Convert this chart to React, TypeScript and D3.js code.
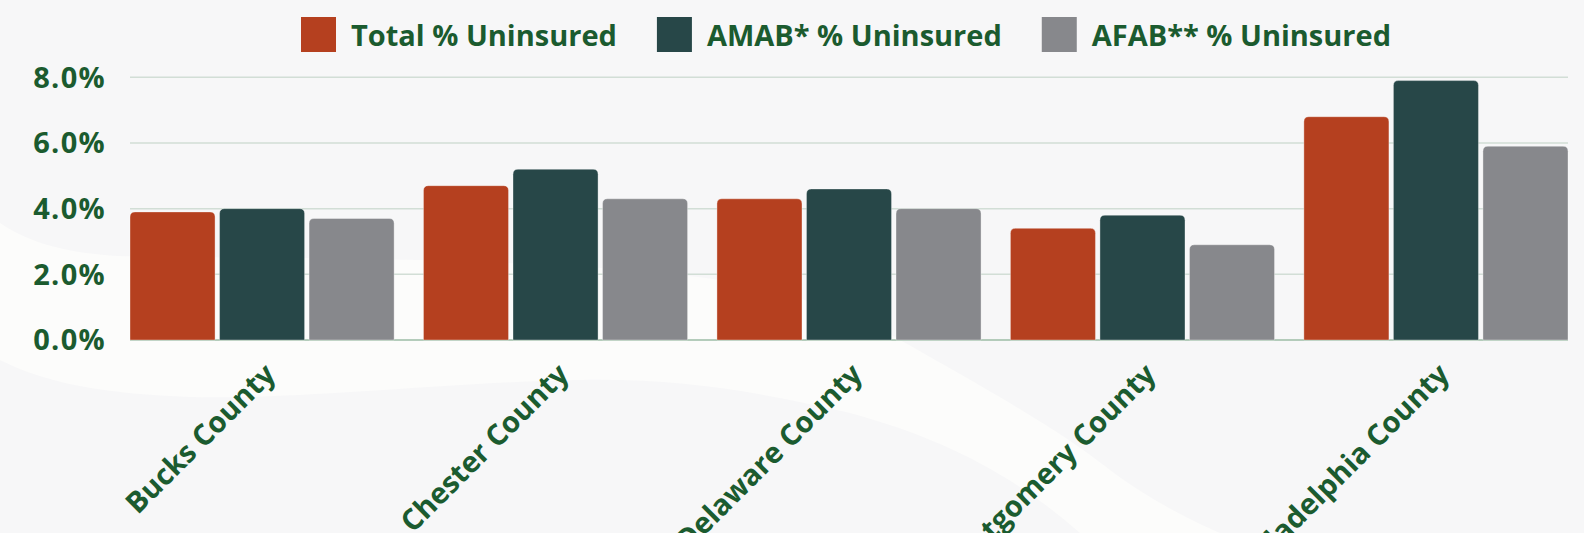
import React from "react";
import * as d3 from "d3";

const counties = ["Bucks County", "Chester County", "Delaware County", "Montgomery County", "Philadelphia County"];
const seriesNames = ["Total % Uninsured", "AMAB* % Uninsured", "AFAB** % Uninsured"];
const totalValues = [3.9, 4.7, 4.3, 3.4, 6.8];
const amabValues = [4.0, 5.2, 4.6, 3.8, 7.9];
const afabValues = [3.7, 4.3, 4.0, 2.9, 5.9];
const yTicks = [0, 2, 4, 6, 8];
const seriesColors = ["#B5401F", "#274748", "#87888C"];

const W = 1584;
const H = 533;
const FONT = "'Open Sans', sans-serif";
const GREEN = "#1B5B2F";

function measure(text: string, size: number) {
  const c = document.createElement("canvas").getContext("2d")!;
  c.font = `700 ${size}px 'Open Sans'`;
  return c.measureText(text).width;
}

function roundedTopBar(x: number, y: number, w: number, h: number, r: number) {
  const rr = Math.min(r, h / 2, w / 2);
  const p = d3.path();
  p.moveTo(x, y + h);
  p.lineTo(x, y + rr);
  p.quadraticCurveTo(x, y, x + rr, y);
  p.lineTo(x + w - rr, y);
  p.quadraticCurveTo(x + w, y, x + w, y + rr);
  p.lineTo(x + w, y + h);
  p.closePath();
  return p.toString();
}

export default function App() {
  const values = [totalValues, amabValues, afabValues];
  const margin = { left: 130, right: W - 1568, top: 77.3, bottom: H - 340 };
  const x0 = d3.scaleBand<string>().domain(counties).range([margin.left, W - margin.right]).paddingInner(0.1).paddingOuter(0);
  const x1 = d3.scaleBand<string>().domain(seriesNames).range([0, x0.bandwidth()]).paddingInner(0.05).paddingOuter(0);
  const y = d3.scaleLinear().domain([0, 8]).range([H - margin.bottom, margin.top]);

  // legend layout
  const legendSize = 29;
  const boxW = 35;
  const boxGap = 15;
  const itemGap = 40;
  const widths = seriesNames.map((s) => measure(s, legendSize));
  const total = widths.reduce((a, b) => a + b, 0) + seriesNames.length * (boxW + boxGap) + (seriesNames.length - 1) * itemGap;
  let lx = 846 - total / 2;
  const legendItems = seriesNames.map((s, i) => {
    const item = { x: lx, name: s, color: seriesColors[i] };
    lx += boxW + boxGap + widths[i] + itemGap;
    return item;
  });

  const ribbon =
    "M0,223 C40,250 90,257 160,257 C400,258 600,262 720,280 C800,295 860,315 900,340 C980,385 1060,430 1110,470 C1150,500 1190,520 1220,533 L1080,533 C1020,480 950,440 850,413 C760,392 680,378 580,380 C450,382 300,400 190,397 C110,394 50,385 0,360 Z";

  return (
    <>
      <style>{`body{margin:0;} svg{display:block;}`}</style>
      <svg width={W} height={H} viewBox={`0 0 ${W} ${H}`} style={{ fontFamily: FONT }}>
        <rect x={0} y={0} width={W} height={H} fill="#F7F7F8" />
        <path d={ribbon} fill="#FCFCFB" />

        {/* gridlines */}
        {yTicks.map((t) => (
          <line
            key={"g" + t}
            x1={margin.left}
            x2={W - margin.right}
            y1={y(t)}
            y2={y(t)}
            stroke={t === 0 ? "#9DBCA6" : "#D2DED6"}
            strokeWidth={1.5}
          />
        ))}

        {/* y tick labels */}
        {yTicks.map((t) => (
          <text
            key={"t" + t}
            x={106}
            y={y(t)}
            dy="0.36em"
            textAnchor="end"
            fontSize={29}
            fontWeight={700}
            letterSpacing={1.3}
            fill={GREEN}
          >
            {d3.format(".1f")(t) + "%"}
          </text>
        ))}

        {/* bars */}
        {counties.map((c, ci) => (
          <g key={c} transform={`translate(${x0(c)},0)`}>
            {seriesNames.map((s, si) => {
              const v = values[si][ci];
              const bx = x1(s)!;
              const by = y(v);
              return (
                <path
                  key={s}
                  d={roundedTopBar(bx, by, x1.bandwidth(), y(0) - by, 5)}
                  fill={seriesColors[si]}
                  stroke="rgba(255,255,255,0.35)"
                  strokeWidth={1}
                />
              );
            })}
          </g>
        ))}

        {/* x labels */}
        {counties.map((c) => {
          const cx = x0(c)! + x0.bandwidth() / 2 + 15;
          const cy = y(0) + 36;
          return (
            <text
              key={"l" + c}
              transform={`translate(${cx},${cy}) rotate(-45)`}
              textAnchor="end"
              fontSize={29}
              fontWeight={700}
              fill={GREEN}
            >
              {c}
            </text>
          );
        })}

        {/* legend */}
        {legendItems.map((it) => (
          <g key={it.name}>
            <rect x={it.x} y={17} width={boxW} height={35} fill={it.color} />
            <text x={it.x + boxW + boxGap} y={45.7} fontSize={legendSize} fontWeight={700} fill={GREEN}>
              {it.name}
            </text>
          </g>
        ))}
      </svg>
    </>
  );
}
